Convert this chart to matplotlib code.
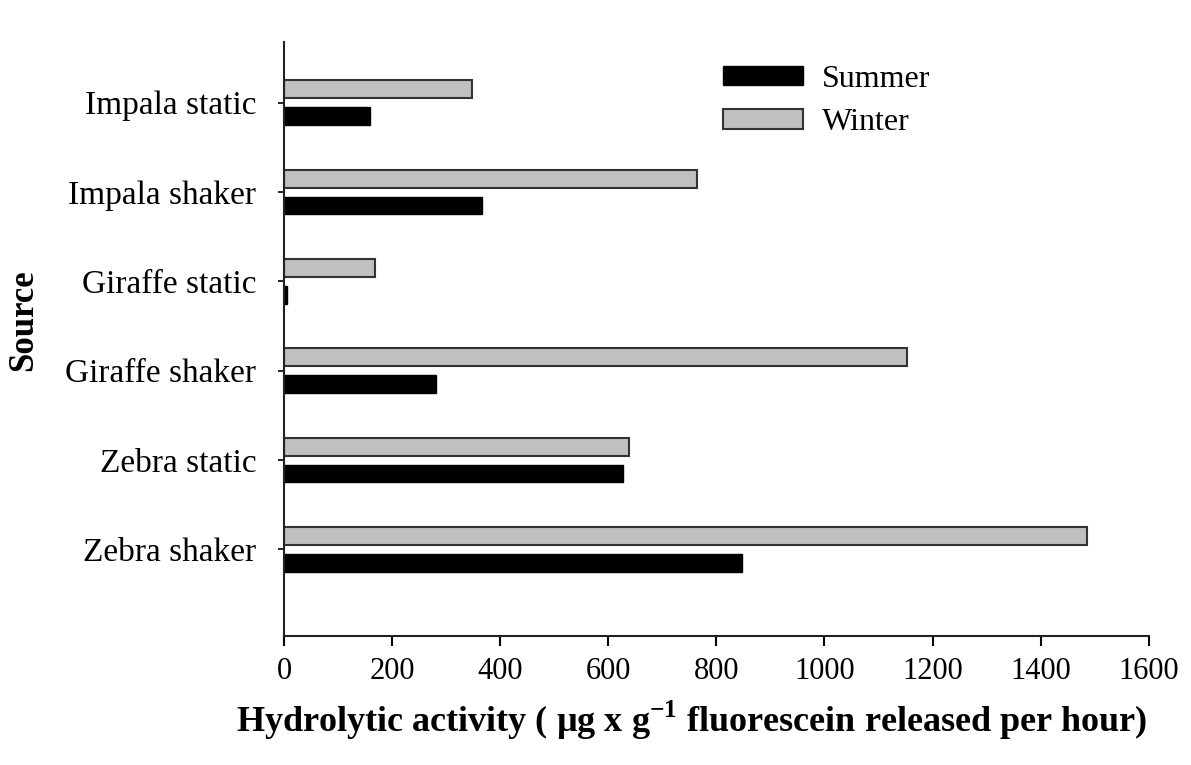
import matplotlib
matplotlib.use("Agg")
import matplotlib.pyplot as plt
import numpy as np

plt.rcParams['font.family'] = ['Liberation Serif', 'DejaVu Serif']
plt.rcParams['mathtext.fontset'] = 'custom'
plt.rcParams['mathtext.rm'] = 'Liberation Serif'
plt.rcParams['mathtext.bf'] = 'Liberation Serif:bold'

sources = ["Zebra shaker", "Zebra static", "Giraffe shaker",
           "Giraffe static", "Impala shaker", "Impala static"]
summer = [848, 627, 281, 5, 366, 159]
winter = [1486, 639, 1152, 168, 765, 347]

fig = plt.figure(figsize=(11.91, 7.65), dpi=100)
ax = fig.add_axes([0.2385, 0.1686, 0.7260, 0.7765])

y = np.arange(len(sources))
h = 0.2
ax.barh(y + 0.15, winter, height=h, color='#c0c0c0', edgecolor='#333333',
        linewidth=1.5, label='Winter')
ax.barh(y - 0.15, summer, height=h, color='black', edgecolor='black',
        linewidth=1.0, label='Summer')

ax.set_xlim(0, 1600)
ax.set_ylim(-0.97, 5.68)
ax.set_xticks(np.arange(0, 1601, 200))
ax.set_yticks(y)
ax.set_yticklabels(sources)

for s in ['top', 'right']:
    ax.spines[s].set_visible(False)
for s in ['left', 'bottom']:
    ax.spines[s].set_linewidth(1.5)
    ax.spines[s].set_color('#222222')

ax.tick_params(axis='x', direction='out', length=7, width=1.5, labelsize=22, pad=8)
ax.tick_params(axis='y', direction='out', length=4, width=1.2, labelsize=24, pad=16)

ax.set_xlabel(r'Hydrolytic activity ( µg x g$^{\mathbf{-1}}$ fluorescein released per hour)',
              fontsize=26, fontweight='bold')
ax.xaxis.set_label_coords(0.472, -0.105)
ax.set_ylabel('Source', fontsize=25, fontweight='bold')
ax.yaxis.set_label_coords(-0.282, 0.532)

handles, labels = ax.get_legend_handles_labels()
ax.legend(handles[::-1], labels[::-1], loc='upper left',
          bbox_to_anchor=(723 / 1191, 1 - 65 / 765), bbox_transform=fig.transFigure,
          frameon=False, fontsize=23, handlelength=2.5, handleheight=0.55,
          handletextpad=0.6, labelspacing=0.45, borderpad=0, borderaxespad=0)

fig.savefig('out.png', dpi=100)
